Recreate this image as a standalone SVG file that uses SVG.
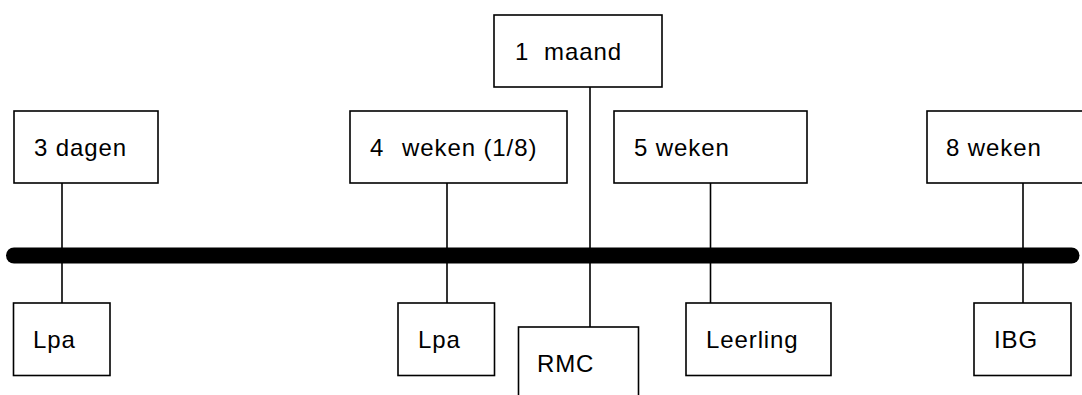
<svg xmlns="http://www.w3.org/2000/svg" width="1082" height="395" viewBox="0 0 1082 395">
<style>
.box{fill:#fff;stroke:#000;stroke-width:1.6}
.ln{stroke:#000;stroke-width:1.6;fill:none}
.t{font-family:"Liberation Sans",Arial,sans-serif;font-size:24px;letter-spacing:0.9px;fill:#000}
</style>
<rect width="1082" height="395" fill="#fff"/>
<g id="connectors">
<line class="ln" x1="62" y1="183" x2="62" y2="303"/>
<line class="ln" x1="447" y1="183" x2="447" y2="303"/>
<line class="ln" x1="590" y1="87" x2="590" y2="327"/>
<line class="ln" x1="710.5" y1="183" x2="710.5" y2="303"/>
<line class="ln" x1="1023" y1="183" x2="1023" y2="303"/>
<line id="timeline" x1="14" y1="255.5" x2="1071.5" y2="255.5" stroke="#000" stroke-width="16" stroke-linecap="round"/>
</g>
<g id="n-3dagen"><rect class="box" x="14" y="111" width="144" height="72"/><text class="t" x="34" y="156">3 dagen</text></g>
<g id="n-4weken"><rect class="box" x="350" y="111" width="217" height="72"/><text class="t" x="370" y="156">4<tspan x="402">weken (1/8)</tspan></text></g>
<g id="n-1maand"><rect class="box" x="494" y="15" width="168" height="72"/><text class="t" x="515" y="60">1<tspan x="544">maand</tspan></text></g>
<g id="n-5weken"><rect class="box" x="614" y="111" width="193" height="72"/><text class="t" x="634" y="156">5 weken</text></g>
<g id="n-8weken"><rect class="box" x="927" y="111" width="170" height="72"/><text class="t" x="946" y="156">8 weken</text></g>
<g id="n-lpa1"><rect class="box" x="13.5" y="303" width="96.5" height="72.5"/><text class="t" x="33" y="348">Lpa</text></g>
<g id="n-lpa2"><rect class="box" x="398" y="303" width="96.5" height="72.5"/><text class="t" x="418" y="348">Lpa</text></g>
<g id="n-rmc"><rect class="box" x="518.5" y="327" width="120" height="80"/><text class="t" x="537" y="372">RMC</text></g>
<g id="n-leerling"><rect class="box" x="686" y="303" width="145" height="72.5"/><text class="t" x="706" y="348">Leerling</text></g>
<g id="n-ibg"><rect class="box" x="974" y="303" width="97" height="72.5"/><text class="t" x="994" y="348">IBG</text></g>
</svg>
